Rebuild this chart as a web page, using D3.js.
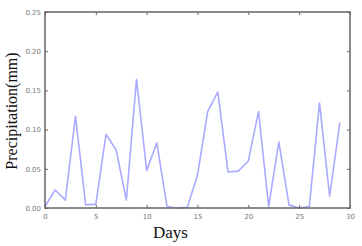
<!DOCTYPE html>
<html><head><meta charset="utf-8">
<script src="https://cdn.jsdelivr.net/npm/d3@7"></script>
<style>body{margin:0;background:#fff}svg{display:block}</style>
</head><body>
<svg id="c" width="362" height="246"></svg>
<script>
const days = d3.range(0, 30);
const precipitation = [0.002,0.023,0.010,0.117,0.004,0.005,0.094,0.074,0.010,0.164,
  0.048,0.083,0.002,0.000,0.001,0.042,0.123,0.148,0.046,0.047,
  0.060,0.123,0.002,0.084,0.004,0.000,0.002,0.134,0.015,0.109];
const xTicks = [0,5,10,15,20,25,30];
const yTicks = [0,0.05,0.10,0.15,0.20,0.25];
const yTickLabels = ["0.00","0.05","0.10","0.15","0.20","0.25"];

const svg = d3.select("#c");
const L=45, R=350, T=12, B=208;
const x = d3.scaleLinear().domain([0,30]).range([L,R]);
const y = d3.scaleLinear().domain([0,0.25]).range([B,T]);

svg.append("path").datum(days)
  .attr("fill","none").attr("stroke","#7d7dff").attr("stroke-opacity",0.65)
  .attr("stroke-width",1.6).attr("stroke-linejoin","round")
  .attr("d", d3.line().x(d=>x(d)).y(d=>y(precipitation[d])));

const axCol="#666";
function styleAxis(g){
  g.select(".domain").remove();
  g.selectAll(".tick line").attr("stroke",axCol).attr("stroke-width",1);
  g.selectAll(".tick text").attr("fill","#777").style("font-family","DejaVu Sans").style("font-size","7px");
}
svg.append("g").attr("transform",`translate(0,${B})`)
  .call(d3.axisBottom(x).tickValues(xTicks).tickSize(-3).tickPadding(6).tickFormat(d3.format("d")))
  .call(styleAxis);
svg.append("g").attr("transform",`translate(${L},0)`)
  .call(d3.axisLeft(y).tickValues(yTicks).tickSize(-3).tickPadding(4).tickFormat((d,i)=>yTickLabels[i]))
  .call(styleAxis);
svg.append("g").attr("transform",`translate(0,${T})`)
  .call(d3.axisTop(x).tickValues(xTicks).tickSize(-3).tickFormat(""))
  .call(styleAxis);
svg.append("g").attr("transform",`translate(${R},0)`)
  .call(d3.axisRight(y).tickValues(yTicks).tickSize(-3).tickFormat(""))
  .call(styleAxis);

svg.append("rect").attr("x",L).attr("y",T).attr("width",R-L).attr("height",B-T)
  .attr("fill","none").attr("stroke",axCol).attr("stroke-width",1.5);

svg.append("text").attr("x",(L+R)/2-27).attr("y",238).attr("text-anchor","middle")
  .style("font-family","Liberation Serif").style("font-size","17px").attr("fill","#111").text("Days");
svg.append("text").attr("transform",`translate(17,${(T+B)/2+1}) rotate(-90)`).attr("text-anchor","middle")
  .style("font-family","Liberation Serif").style("font-size","16px").attr("fill","#111").text("Precipitation(mm)");
</script>
</body></html>
